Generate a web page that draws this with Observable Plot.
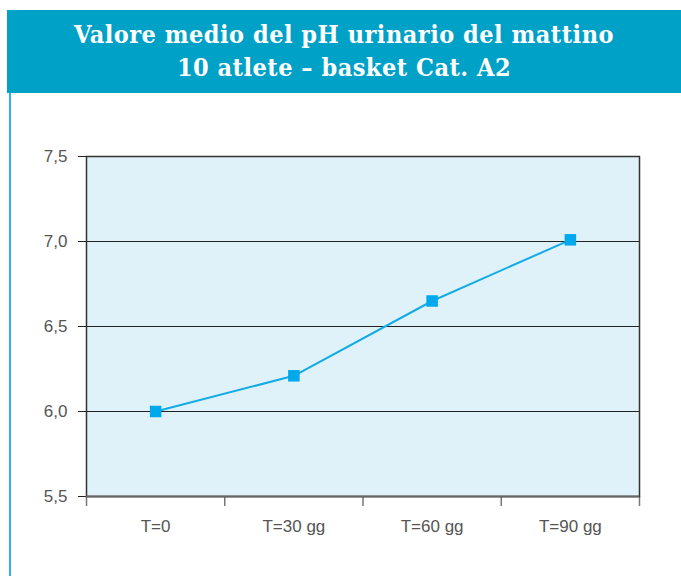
<!DOCTYPE html>
<html><head><meta charset="utf-8">
<script src="https://cdn.jsdelivr.net/npm/d3@7"></script>
<script src="https://cdn.jsdelivr.net/npm/@observablehq/plot@0.6"></script>
<style>
html,body{margin:0;padding:0;background:#fff;width:681px;height:576px;overflow:hidden;position:relative}
#hdr{position:absolute;left:7px;top:10px;width:674px;height:83px;background:#00a1c7;color:#fff;
 font-family:"DejaVu Serif Condensed","DejaVu Serif",serif;font-stretch:condensed;font-weight:bold;font-size:25px;line-height:33px;letter-spacing:0.5px;text-align:center;
 box-sizing:border-box;padding-top:8px}
#side{position:absolute;left:9px;top:93px;width:2px;height:483px;background:#2cb6de}
#chart{position:absolute;left:0;top:93px}
</style></head>
<body>
<div id="hdr"><div>Valore medio del pH urinario del mattino</div><div>10 atlete – basket Cat. A2</div></div>
<div id="side"></div>
<div id="chart"></div>
<script>
const categories = ["T=0", "T=30 gg", "T=60 gg", "T=90 gg"];
const phValues = [6.0, 6.21, 6.65, 7.01];
const yTicks = [5.5, 6.0, 6.5, 7.0, 7.5];
const gridTicks = [6.0, 6.5, 7.0];

const data = categories.map((c, i) => ({cat: c, pos: i + 0.5, ph: phValues[i]}));
const edges = d3.range(categories.length + 1);
const centers = categories.map((c, i) => i + 0.5);
const fmt = d => d.toFixed(1).replace(".", ",");

const plot = Plot.plot({
  width: 681,
  height: 483,
  marginTop: 63,
  marginBottom: 80,
  marginLeft: 86,
  marginRight: 42,
  style: {fontFamily: "'Liberation Sans', Helvetica, Arial, sans-serif", fontSize: "17px", color: "#555", background: "transparent"},
  x: {domain: [0, categories.length], axis: null},
  y: {domain: [5.5, 7.5], axis: null},
  marks: [
    Plot.frame({fill: "#dff2fa", stroke: "none"}),
    Plot.ruleY(gridTicks, {stroke: "#222", strokeWidth: 1}),
    Plot.axisY({ticks: yTicks, tickFormat: fmt, tickSize: 8, tickPadding: 11, stroke: "#222", fill: "#555", fontSize: 17, label: null}),
    Plot.axisX({ticks: edges, tickFormat: () => "", tickSize: 10, stroke: "#777", strokeWidth: 1.5, label: null}),
    Plot.axisX({ticks: centers, tickFormat: d => categories[Math.round(d - 0.5)], tickSize: 0, tickPadding: 23, fill: "#555", fontSize: 17, label: null}),
    Plot.frame({stroke: "#333", strokeWidth: 1.5}),
    Plot.ruleY([5.5], {stroke: "#666", strokeWidth: 2}),
    Plot.line(data, {x: "pos", y: "ph", stroke: "#12abe6", strokeWidth: 2}),
    Plot.dot(data, {x: "pos", y: "ph", symbol: "square", r: 6.5, fill: "#00a9ec", stroke: "none"})
  ]
});
document.getElementById("chart").appendChild(plot);
</script>
</body></html>
